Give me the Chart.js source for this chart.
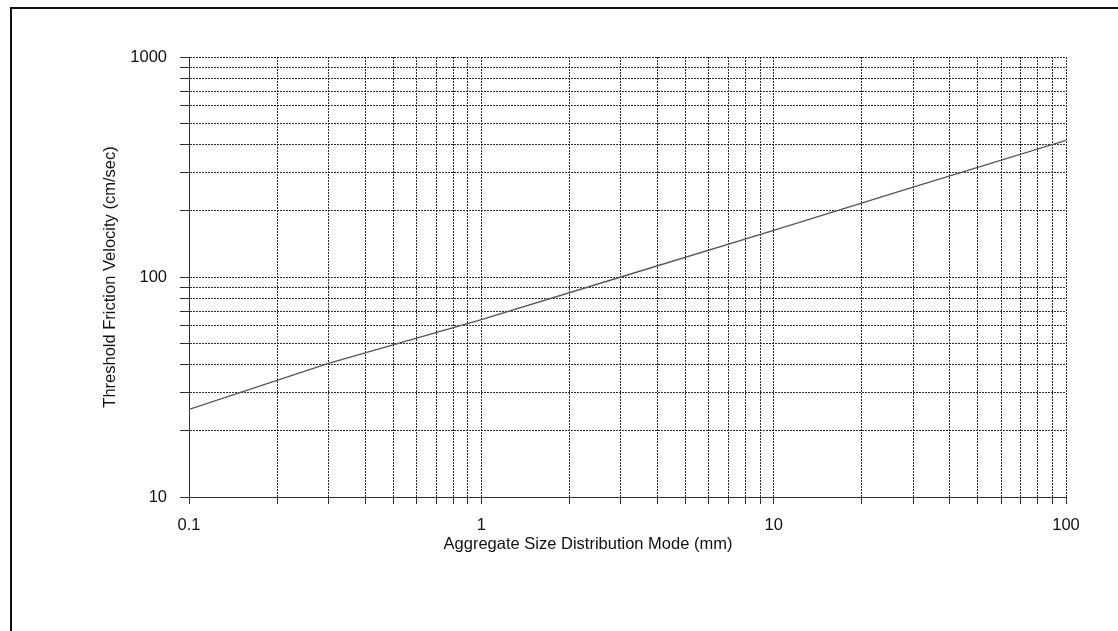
<!DOCTYPE html>
<html>
<head>
<meta charset="utf-8">
<script src="https://cdn.jsdelivr.net/npm/chart.js@4/dist/chart.umd.min.js"></script>
<style>
html,body{margin:0;padding:0;background:#fff;}
#wrap{position:relative;width:1118px;height:631px;}
#frame{position:absolute;left:10px;top:7px;width:1108px;height:624px;border-left:2px solid #111;border-top:2px solid #111;box-sizing:border-box;pointer-events:none;}
canvas{position:absolute;left:0;top:0;}
</style>
</head>
<body>
<div id="wrap">
<canvas id="c" width="1118" height="631"></canvas>
<div id="frame"></div>
</div>
<script>
// Data
const sizes = [0.1, 0.3, 1, 3, 10, 30, 100];          // Aggregate size distribution mode (mm)
const velocities = [25, 40.5, 64, 100, 163, 256, 418]; // Threshold friction velocity (cm/sec)
const xTickLabels = [0.1, 1, 10, 100];
const yTickLabels = [10, 100, 1000];
const minorSteps = [1, 2, 3, 4, 5, 6, 7, 8, 9];
const xTitle = 'Aggregate Size Distribution Mode (mm)';
const yTitle = 'Threshold Friction Velocity (cm/sec)';

const points = sizes.map((s, i) => ({x: s, y: velocities[i]}));
const FONT = '"Liberation Sans", Arial, sans-serif';
const gridColor = '#2e2e2e';

function isLabel(v, list){ return list.some(t => Math.abs(Math.log10(v) - Math.log10(t)) < 1e-6); }
function decadeTicks(labels){
  const out = [];
  for (let i = 0; i < labels.length - 1; i++) {
    minorSteps.forEach(m => out.push({value: +(labels[i] * m).toPrecision(6)}));
  }
  out.push({value: labels[labels.length - 1]});
  return out;
}

const titlePlugin = {
  id: 'axisTitles',
  afterDraw(chart){
    const ctx = chart.ctx;
    ctx.save();
    ctx.fillStyle = '#111';
    ctx.font = '16.5px ' + FONT;
    ctx.textAlign = 'center';
    ctx.textBaseline = 'middle';
    ctx.fillText(xTitle, 588, 544);
    ctx.translate(110, 277);
    ctx.rotate(-Math.PI/2);
    ctx.fillText(yTitle, 0, 0);
    ctx.restore();
  }
};

new Chart(document.getElementById('c'), {
  type: 'line',
  data: {
    datasets: [{
      data: points,
      borderColor: '#555',
      borderWidth: 1.4,
      pointRadius: 0,
      tension: 0,
      fill: false
    }]
  },
  options: {
    responsive: false,
    animation: false,
    plugins: {legend: {display: false}, tooltip: {enabled: false}},
    layout: {padding: {left: 0, top: 57, right: 52, bottom: 0}},
    scales: {
      x: {
        type: 'logarithmic',
        min: 0.1, max: 100,
        afterBuildTicks(s){ s.ticks = decadeTicks(xTickLabels); },
        afterFit(s){ s.height = 134; },
        grid: {color: gridColor, lineWidth: 1, tickLength: 7, tickColor: gridColor},
        border: {display: true, color: gridColor, dash: [2, 1]},
        ticks: {
          autoSkip: false, maxRotation: 0, padding: 12,
          color: '#111', font: {family: FONT, size: 16.5},
          callback(v){ return isLabel(v, xTickLabels) ? String(v) : ''; }
        }
      },
      y: {
        type: 'logarithmic',
        min: 10, max: 1000,
        afterBuildTicks(s){ s.ticks = decadeTicks(yTickLabels); },
        afterFit(s){ s.width = 189; },
        grid: {color: gridColor, lineWidth: 1, tickLength: 9, tickColor: gridColor},
        border: {display: true, color: gridColor, dash: [2, 1]},
        ticks: {
          autoSkip: false, padding: 13,
          color: '#111', font: {family: FONT, size: 16.5},
          callback(v){ return isLabel(v, yTickLabels) ? String(v) : ''; }
        }
      }
    }
  },
  plugins: [titlePlugin]
});
</script>
</body>
</html>
